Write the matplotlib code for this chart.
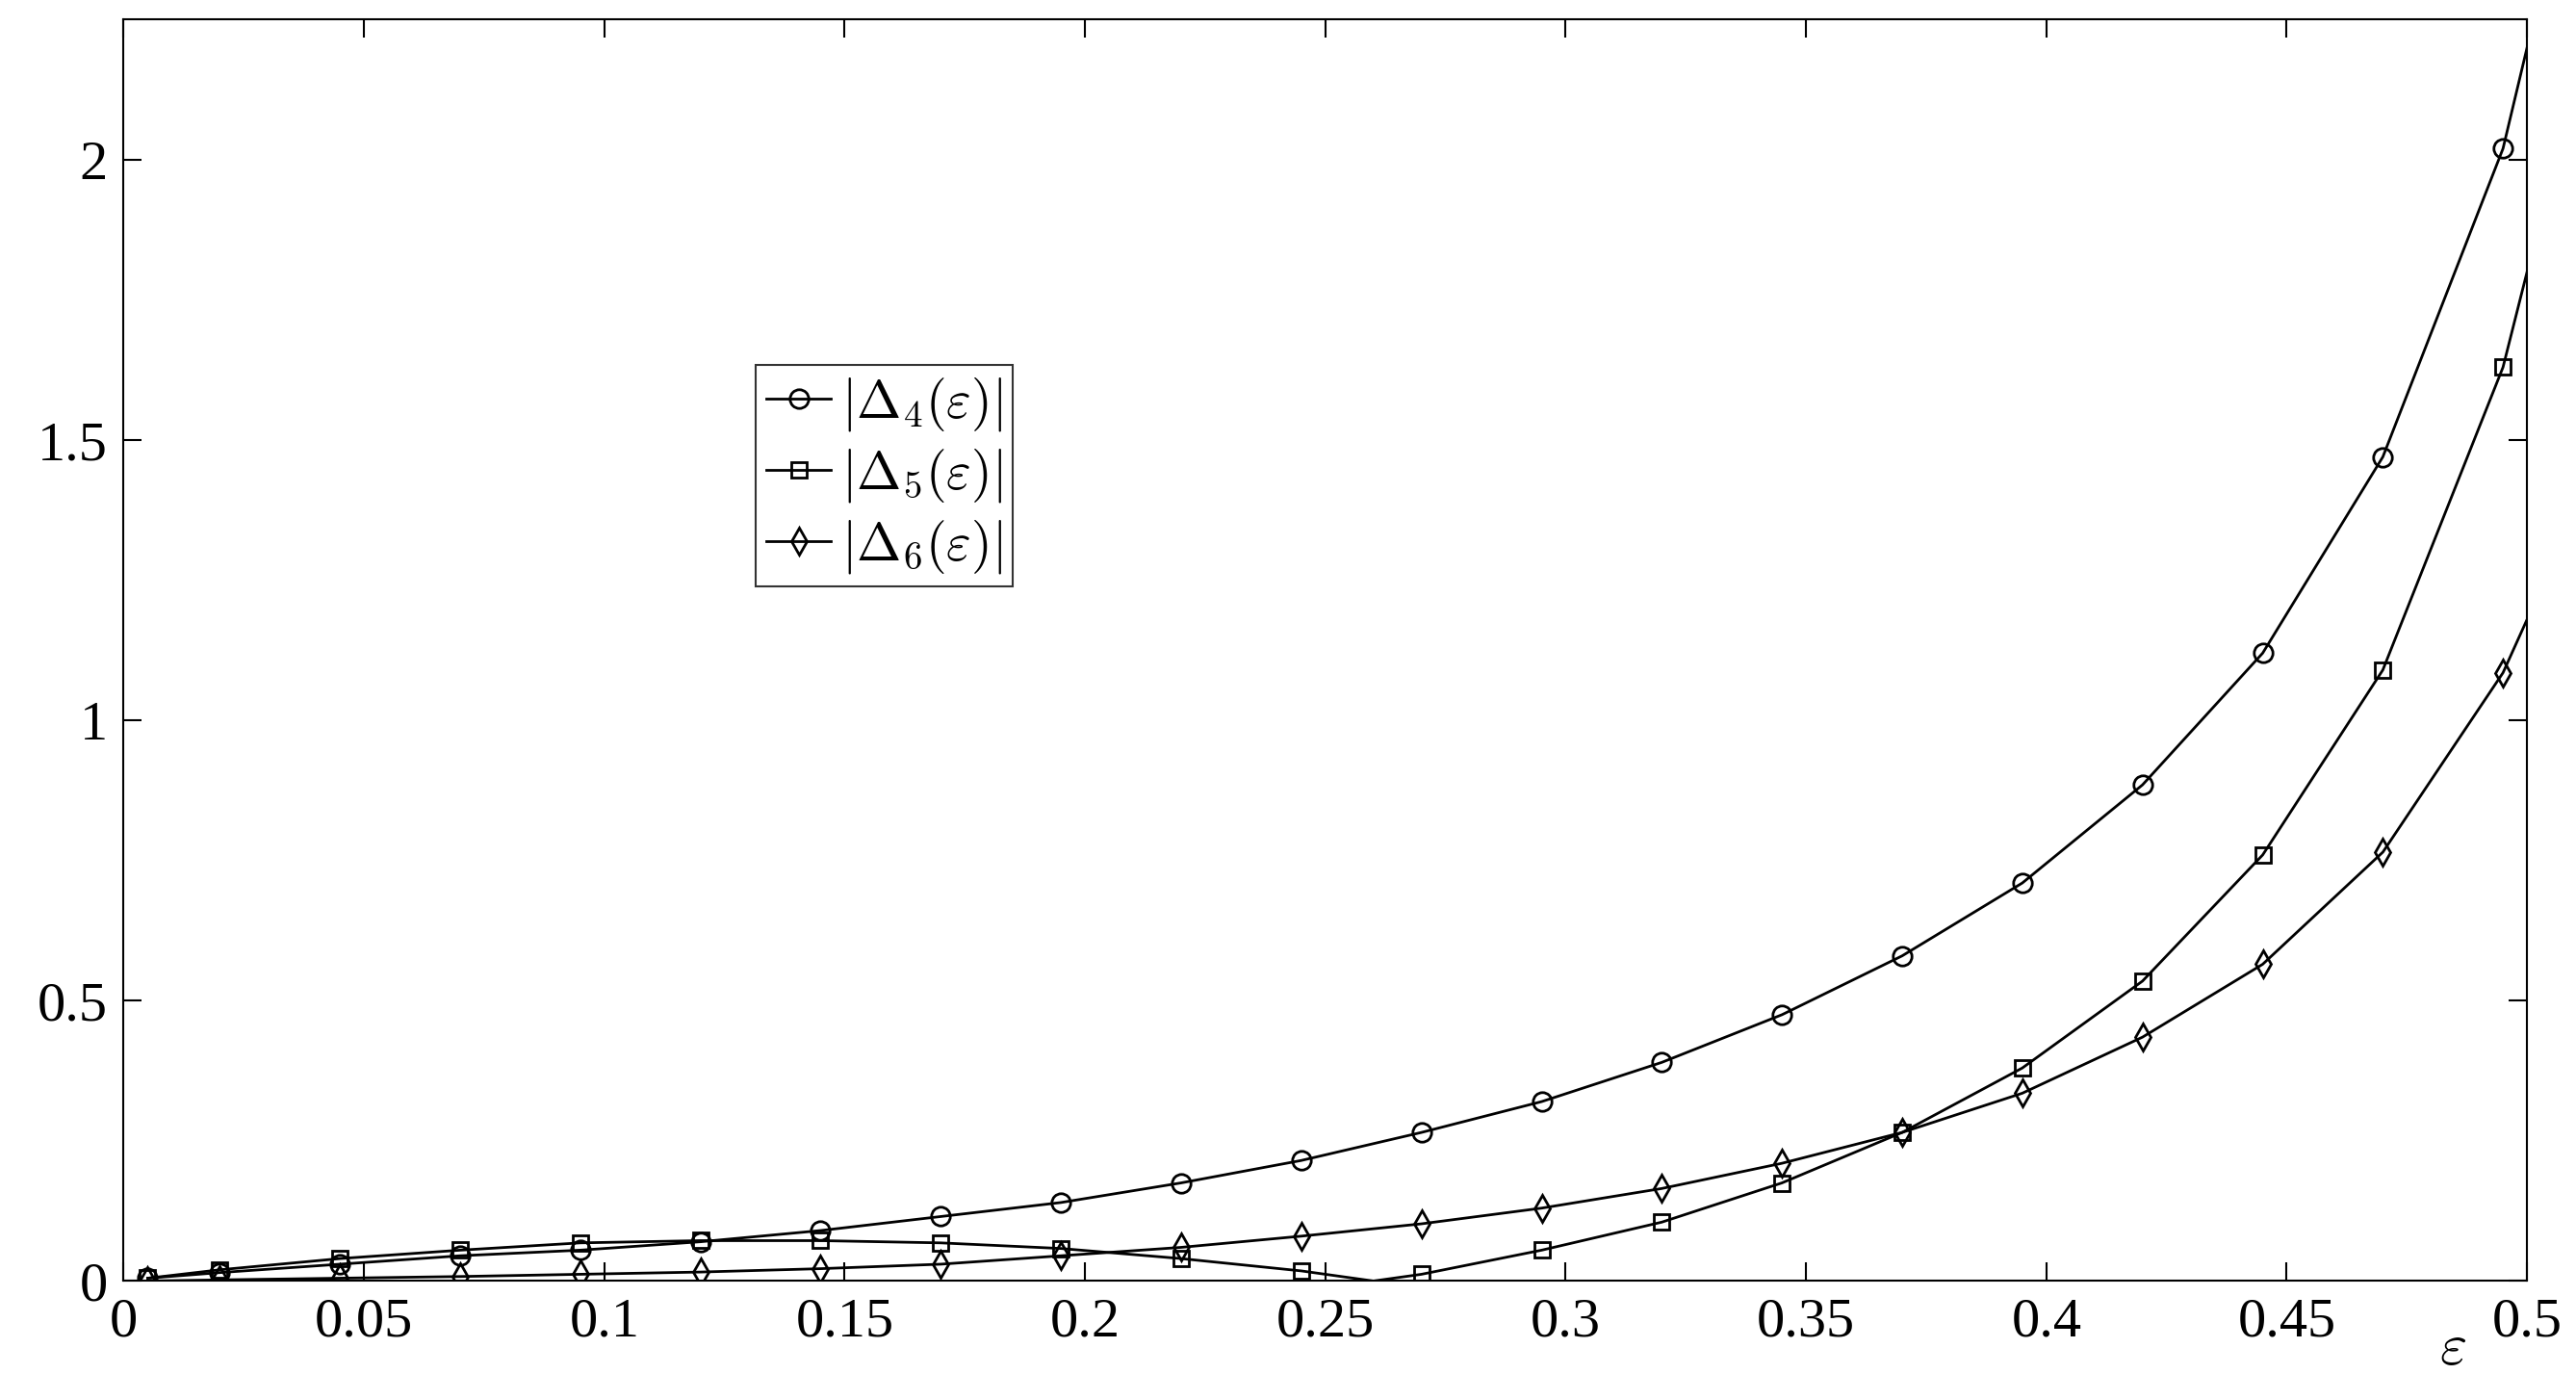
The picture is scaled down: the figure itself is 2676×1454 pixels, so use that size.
import matplotlib
matplotlib.use("Agg")
import matplotlib.pyplot as plt

x = [0.005,0.02,0.045,0.07,0.095,0.12,0.145,0.17,0.195,0.22,0.245,0.27,0.295,0.32,0.345,0.37,0.395,0.42,0.445,0.47,0.495,0.5]
d4 = [0.005,0.015,0.03,0.045,0.055,0.07,0.09,0.115,0.14,0.175,0.215,0.265,0.32,0.39,0.475,0.58,0.71,0.885,1.12,1.47,2.02,2.2]
x5 = [0.005,0.02,0.045,0.07,0.095,0.12,0.145,0.17,0.195,0.22,0.245,0.26,0.27,0.295,0.32,0.345,0.37,0.395,0.42,0.445,0.47,0.495,0.5]
d5 = [0.005,0.02,0.04,0.055,0.068,0.072,0.072,0.068,0.058,0.04,0.018,0.0,0.012,0.055,0.105,0.175,0.265,0.38,0.535,0.76,1.09,1.63,1.8]
d6 = [0.0,0.002,0.005,0.008,0.012,0.016,0.022,0.03,0.045,0.06,0.08,0.102,0.13,0.165,0.21,0.265,0.335,0.435,0.565,0.765,1.085,1.18]

plt.rcParams['font.family'] = ['Liberation Serif']
plt.rcParams['mathtext.fontset'] = 'cm'
fig = plt.figure(figsize=(26.76,14.54), dpi=100)
ax = fig.add_axes([0.048,0.085,0.933,0.901])
kw = dict(color='black', lw=2, ms=14, mfc='none', mew=2)
ax.plot(x, d4, marker='o', markevery=list(range(len(x)-1)), label=r'$|\Delta_4(\varepsilon)|$', **kw)
m5 = [i for i in range(len(x5)-1) if x5[i] != 0.26]
ax.plot(x5, d5, marker='s', markevery=m5, label=r'$|\Delta_5(\varepsilon)|$', **{**kw, 'ms':12})
ax.plot(x, d6, marker='d', markevery=list(range(len(x)-1)), label=r'$|\Delta_6(\varepsilon)|$', **kw)
ax.set_xlim(0,0.5); ax.set_ylim(0,2.25)
ax.set_xticks([0,0.05,0.1,0.15,0.2,0.25,0.3,0.35,0.4,0.45,0.5])
ax.set_xticklabels(['0','0.05','0.1','0.15','0.2','0.25','0.3','0.35','0.4','0.45','0.5'])
ax.set_yticks([0,0.5,1,1.5,2]); ax.set_yticklabels(['0','0.5','1','1.5','2'])
ax.tick_params(direction='in', top=True, right=True, labelsize=42, length=14, width=1.5, pad=12)
for s in ax.spines.values(): s.set_linewidth(1.5)
ax.text(0.4845, -0.055, r'$\varepsilon$', fontsize=44, ha='center', va='center', transform=ax.get_xaxis_transform())
leg = ax.legend(loc='upper left', bbox_to_anchor=(0.263,0.726), fontsize=40, handlelength=1.2,
                handletextpad=0.2, borderpad=0.2, labelspacing=0.25, fancybox=False, edgecolor='black', borderaxespad=0)
leg.get_frame().set_linewidth(1.5)
fig.savefig('out.png', dpi=100)
